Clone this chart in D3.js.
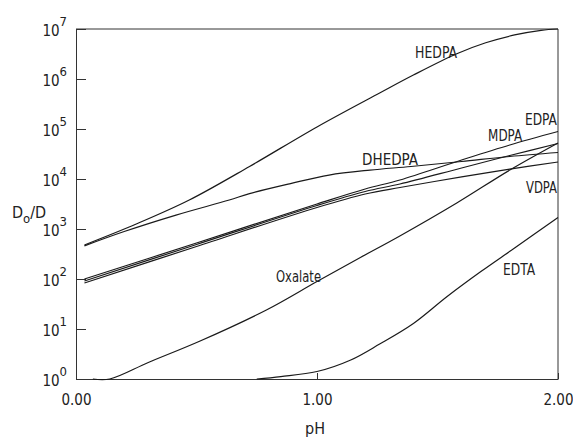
<!DOCTYPE html>
<html>
<head>
<meta charset="utf-8">
<script src="https://cdn.jsdelivr.net/npm/d3@7"></script>
<style>
  body { margin: 0; background: #fff; }
  svg text { font-family: "Liberation Sans Narrow", "DejaVu Sans Condensed", "Arial Narrow", "Liberation Sans", sans-serif; fill: #222; }
</style>
</head>
<body>
<div id="plot"></div>
<script>
// Curves: [pH, Do/D]
var hedpa   = [[0.035, 480], [0.25, 1260], [0.47, 3800], [0.72, 17800], [1.0, 110000], [1.26, 525000], [1.4, 1.2e6], [1.58, 3.2e6], [1.7, 5.3e6], [1.82, 7.6e6], [1.93, 9.4e6], [2.0, 1.0e7]];
var dhedpa  = [[0.035, 460], [0.2, 890], [0.415, 1900], [0.636, 3800], [0.72, 5100], [0.89, 8100], [1.05, 12000], [1.22, 15100], [1.39, 17800], [1.6, 22400], [1.8, 28200], [2.0, 33900]];
var edpa    = [[0.035, 100], [0.5, 525], [1.0, 3160], [1.2, 6310], [1.344, 9550], [1.6, 24000], [1.8, 47900], [2.0, 89100]];
var mdpa    = [[0.035, 91], [0.5, 490], [1.0, 2950], [1.2, 5620], [1.344, 7940], [1.6, 16600], [1.8, 29500], [2.0, 51300]];
var vdpa    = [[0.035, 83], [0.5, 447], [1.0, 2690], [1.2, 5010], [1.344, 6760], [1.6, 11000], [1.8, 15800], [2.0, 21900]];
var oxalate = [[0.07, 1], [0.14, 1], [0.3, 2.14], [0.515, 5.75], [0.79, 24], [1.0, 89], [1.18, 269], [1.34, 708], [1.58, 3310], [1.8, 15100], [2.0, 52500]];
var edta    = [[0.75, 1], [0.85, 1.12], [1.0, 1.41], [1.14, 2.4], [1.26, 5.0], [1.4, 12.9], [1.54, 44.7], [1.68, 141], [1.82, 417], [2.0, 1700]];

var seriesNames = ["HEDPA", "DHEDPA", "EDPA", "MDPA", "VDPA", "Oxalate", "EDTA"];
var seriesData  = [hedpa, dhedpa, edpa, mdpa, vdpa, oxalate, edta];

// Label anchors (pH, Do/D) for the curve names
var labelPH = [1.407, 1.187, 1.863, 1.71, 1.867, 0.83, 1.772];
var labelD  = [2.6e6, 19000, 120000, 57500, 5250, 87, 120];
var labelW  = [42, 56, 32, 34, 31, 45, 32];

var xTicks = [0, 1, 2];
var xTickLabels = ["0.00", "1.00", "2.00"];
var yTicks = [1, 10, 100, 1000, 1e4, 1e5, 1e6, 1e7];

var W = 573, H = 438;
var margin = {top: 29, right: 15, bottom: 59, left: 76};

var svg = d3.select("#plot").append("svg")
	.attr("width", W)
	.attr("height", H);

var x = d3.scaleLinear().domain([0, 2]).range([margin.left, W - margin.right]);
var y = d3.scaleLog().domain([1, 1e7]).range([H - margin.bottom, margin.top]);

// Y axis, ticks pointing inward, labels as 10^n
var yAxis = svg.append("g")
	.attr("transform", "translate(" + margin.left + ",0)")
	.call(d3.axisLeft(y).tickValues(yTicks).tickSizeInner(-10).tickSizeOuter(0).tickPadding(9).tickFormat(""));
yAxis.select(".domain").attr("stroke", "#333");
yAxis.selectAll(".tick line").attr("stroke", "#333");
yAxis.selectAll(".tick text").each(function(d) {
	var t = d3.select(this).attr("dy", "0.45em").style("font-size", "15px");
	t.append("tspan").text("10");
	t.append("tspan").attr("dy", -10).style("font-size", "13px").text(Math.round(Math.log10(d)));
});

// X axis
var xAxis = svg.append("g")
	.attr("transform", "translate(0," + y(1) + ")")
	.call(d3.axisBottom(x).tickValues(xTicks).tickSizeInner(-6).tickSizeOuter(0).tickPadding(15)
		.tickFormat(function(d, i) { return xTickLabels[i]; }));
xAxis.select(".domain").attr("stroke", "#333");
xAxis.selectAll(".tick line").attr("stroke", "#333");
xAxis.selectAll(".tick text").style("font-size", "15px");

// top and right frame
svg.append("line").attr("x1", x(0)).attr("x2", x(2)).attr("y1", y(1e7)).attr("y2", y(1e7)).attr("stroke", "#333");
svg.append("line").attr("x1", x(2)).attr("x2", x(2)).attr("y1", y(1e7)).attr("y2", y(1)).attr("stroke", "#333");

// Axis titles
svg.append("text")
	.attr("x", 315).attr("y", 434)
	.attr("text-anchor", "middle")
	.style("font-size", "16px")
	.text("pH");

var yt = svg.append("text").attr("x", 12).attr("y", 218).style("font-size", "16px");
yt.append("tspan").text("D");
yt.append("tspan").attr("dy", 5).style("font-size", "13px").text("o");
yt.append("tspan").attr("dy", -5).text("/D");

// Curves
var line = d3.line()
	.x(function(d) { return x(d[0]); })
	.y(function(d) { return y(d[1]); })
	.curve(d3.curveCatmullRom.alpha(0.5));

svg.append("g")
	.selectAll("path")
	.data(seriesData).enter()
	.append("path")
	.attr("d", line)
	.attr("fill", "none")
	.attr("stroke", "#1a1a1a")
	.attr("stroke-width", 1.2);

// Curve names
svg.append("g")
	.selectAll("text")
	.data(seriesNames).enter()
	.append("text")
	.attr("x", function(d, i) { return x(labelPH[i]); })
	.attr("y", function(d, i) { return y(labelD[i]); })
	.attr("textLength", function(d, i) { return labelW[i]; })
	.attr("lengthAdjust", "spacingAndGlyphs")
	.style("font-size", "15px")
	.text(function(d) { return d; });
</script>
</body>
</html>
